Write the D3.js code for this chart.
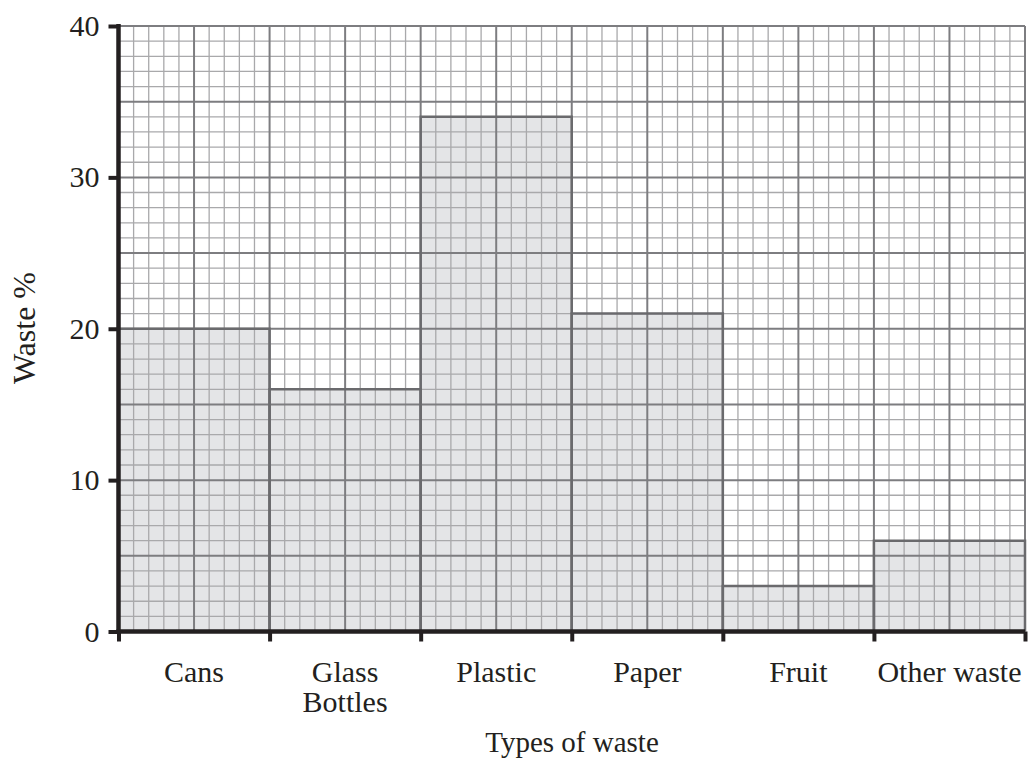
<!DOCTYPE html>
<html><head><meta charset="utf-8">
<script src="https://cdn.jsdelivr.net/npm/d3@7"></script>
<style>body{margin:0;background:#fff;} svg{display:block;} text{font-family:"Liberation Serif","Times New Roman",serif;fill:#231f20;}</style>
</head><body><svg id="c" width="1032" height="758"></svg>
<script>
const categories = ["Cans", "Glass\nBottles", "Plastic", "Paper", "Fruit", "Other waste"];
const values = [20, 16, 34, 21, 3, 6];
const yTicks = [0, 10, 20, 30, 40];
const xTitle = "Types of waste";
const yTitle = "Waste %";

const svg = d3.select("#c");
const L = 118.5, R = 1025, T = 26, B = 631.5;
const x = d3.scaleBand().domain(categories).range([L, R]).padding(0);
const xl = d3.scaleLinear().domain([0, 60]).range([L, R]);
const y = d3.scaleLinear().domain([0, 40]).range([B, T]);
const g = svg.append("g");

// bar fills
g.selectAll("rect.f").data(values).join("rect").attr("class","f")
  .attr("x",(d,i)=>x(categories[i])).attr("width",x.bandwidth())
  .attr("y",d=>y(d)).attr("height",d=>B-y(d)).attr("fill","#e4e5e7");

// minor grid
const minorX = d3.range(1,60).filter(v=>v%5!==0);
const minorY = d3.range(1,40).filter(v=>v%5!==0);
g.selectAll("line.mx").data(minorX).join("line").attr("x1",d=>xl(d)).attr("x2",d=>xl(d)).attr("y1",T).attr("y2",B).attr("stroke","#a9a9ab").attr("stroke-width",1.3);
g.selectAll("line.my").data(minorY).join("line").attr("y1",d=>y(d)).attr("y2",d=>y(d)).attr("x1",L).attr("x2",R).attr("stroke","#a9a9ab").attr("stroke-width",1.3);
const majorX = d3.range(5,61,5);
const majorY = d3.range(5,41,5);
g.selectAll("line.Mx").data(majorX).join("line").attr("x1",d=>xl(d)).attr("x2",d=>xl(d)).attr("y1",T).attr("y2",B).attr("stroke","#7d7d80").attr("stroke-width",2);
g.selectAll("line.My").data(majorY).join("line").attr("y1",d=>y(d)).attr("y2",d=>y(d)).attr("x1",L).attr("x2",R).attr("stroke","#7d7d80").attr("stroke-width",2);

// bar outlines
g.selectAll("path.o").data(values).join("path").attr("class","o")
  .attr("d",(d,i)=>{const x0=x(categories[i]),x1=x0+x.bandwidth();return `M${x0},${B}V${y(d)}H${x1}V${B}`;})
  .attr("fill","none").attr("stroke","#6a6a6d").attr("stroke-width",2.5);

// axes
const ya = svg.append("g").attr("transform",`translate(${L},0)`)
  .call(d3.axisLeft(y).tickValues(yTicks).tickSize(10).tickPadding(9).tickFormat(d3.format("d")));
const xa = svg.append("g").attr("transform",`translate(0,${B})`)
  .call(d3.axisBottom(xl).tickValues(d3.range(0,61,10)).tickSize(10).tickFormat(""));
[ya,xa].forEach(a=>{a.select(".domain").remove();a.selectAll(".tick line").attr("stroke","#231f20").attr("stroke-width",4);});
ya.selectAll(".tick text").attr("font-size",30).attr("fill","#231f20").style("font-family","Liberation Serif");
svg.append("line").attr("x1",L).attr("x2",L).attr("y1",T-2).attr("y2",B+2).attr("stroke","#231f20").attr("stroke-width",4.5);
svg.append("line").attr("x1",L-2).attr("x2",R).attr("y1",B).attr("y2",B).attr("stroke","#231f20").attr("stroke-width",4.5);

// category labels
categories.forEach(c=>{
  const t = svg.append("text").attr("x",x(c)+x.bandwidth()/2).attr("y",682).attr("text-anchor","middle").attr("font-size",30);
  c.split("\n").forEach((s,k)=>t.append("tspan").attr("x",x(c)+x.bandwidth()/2).attr("dy",k?30:0).text(s));
});
svg.append("text").attr("x",572).attr("y",752).attr("text-anchor","middle").attr("font-size",29).text(xTitle);
svg.append("text").attr("transform","translate(35,328) rotate(-90)").attr("text-anchor","middle").attr("font-size",32).text(yTitle);
</script></body></html>
